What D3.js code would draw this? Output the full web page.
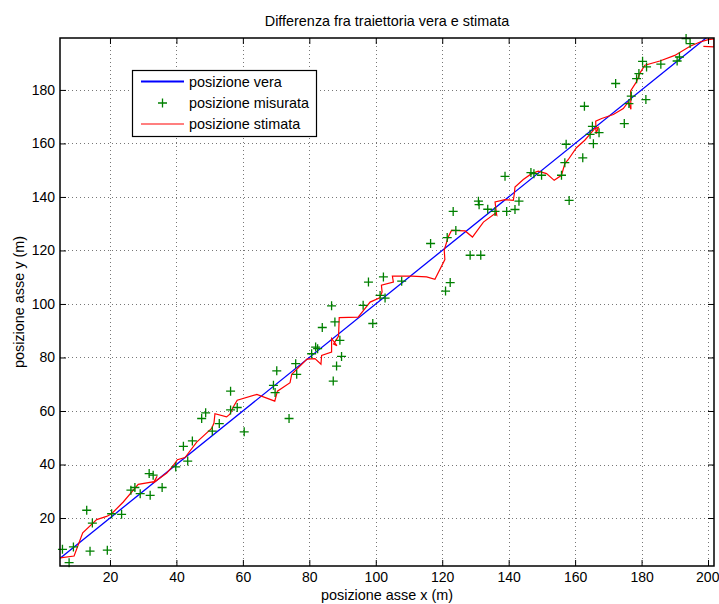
<!DOCTYPE html>
<html>
<head>
<meta charset="utf-8">
<script src="https://cdn.jsdelivr.net/npm/d3@7"></script>
<style>
  html, body { margin: 0; padding: 0; background: #fff; }
  svg text { font-family: "Liberation Sans", Arial, Helvetica, sans-serif; fill: #000; }
</style>
</head>
<body>
<svg id="chart" width="719" height="604"></svg>
<script>
// ---------- data ----------
const titleText = "Differenza fra traiettoria vera e stimata";
const xLabelText = "posizione asse x (m)";
const yLabelText = "posizione asse y (m)";
const legendLabels = ["posizione vera", "posizione misurata", "posizione stimata"];

const xTicks = [20, 40, 60, 80, 100, 120, 140, 160, 180, 200];
const yTicks = [20, 40, 60, 80, 100, 120, 140, 160, 180];
const xDomain = [4.96, 201.8];
const yDomain = [2.07, 199.4];

// true trajectory
const trueX = [5, 200];
const trueY = [5, 200];

// measured positions
const measX = [5.7, 7.7, 9.0, 13.0, 14.0, 14.7, 19.2, 20.5, 23.5, 26.3, 27.5, 29.1, 31.8, 33.0, 32.1, 35.7,
  39.8, 42.1, 43.4, 44.8, 47.6, 48.8, 50.8, 52.9, 56.3, 58.3, 56.3, 60.4, 73.9, 70.2, 69.2, 69.7,
  75.9, 76.2, 80.7, 81.9, 82.5, 83.9, 86.7, 87.2, 88.2, 89.7, 89.2, 87.7, 96.2, 97.8, 99.1, 101.3,
  102.8, 102.3, 107.8, 116.5, 121.0, 122.4, 121.5, 124.1, 123.3, 128.4, 131.6, 130.9, 131.1, 133.7,
  135.9, 139.4, 138.9, 141.9, 143.1, 146.7, 147.6, 149.9, 155.9, 156.9, 157.3, 158.2, 162.3, 162.8,
  164.5, 165.2, 165.5, 167.2, 172.2, 174.8, 176.2, 176.9, 178.5, 179.2, 180.3, 181.5, 181.3, 185.8,
  190.7, 191.4, 193.4, 194.6];
const measY = [8.3, 3.3, 9.2, 22.9, 7.6, 18.1, 8.0, 21.6, 21.4, 30.4, 31.4, 29.1, 36.6, 36.0, 28.5, 31.4,
  39.1, 46.8, 41.3, 48.8, 57.2, 59.3, 52.5, 55.3, 60.4, 61.3, 67.4, 52.2, 57.2, 75.0, 69.6, 66.9,
  77.7, 73.7, 81.4, 83.9, 83.3, 91.2, 99.3, 71.2, 76.8, 80.4, 86.4, 93.3, 99.5, 108.2, 92.7, 103.2,
  102.2, 110.1, 108.5, 122.6, 104.8, 108.0, 124.8, 127.5, 134.6, 118.2, 118.2, 138.4, 137.1, 135.4,
  134.6, 134.6, 147.7, 135.3, 138.4, 149.1, 148.7, 148.1, 148.1, 152.8, 159.7, 138.7, 154.6, 173.9,
  163.4, 166.4, 159.9, 164.0, 182.4, 167.4, 174.9, 177.7, 184.2, 186.1, 190.7, 188.6, 176.4, 189.6,
  190.8, 192.3, 199.2, 197.3];

// estimated positions
const estX = [5.0, 9.2, 11.8, 16.0, 19.0, 20.5, 24.0, 28.5, 33.3, 34.2, 33.0, 37.1, 39.1, 40.3, 42.6, 46.1,
  50.6, 51.3, 51.6, 55.1, 56.1, 57.1, 58.3, 64.2, 69.6, 70.4, 74.2, 74.7, 79.3, 81.7, 83.5, 83.7,
  86.7, 86.7, 88.3, 87.3, 88.8, 89.0, 94.7, 98.3, 101.2, 101.9, 101.7, 105.3, 105.0, 110.8, 115.3, 117.8,
  120.8, 120.6, 121.8, 122.8, 126.9, 129.1, 132.4, 135.9, 136.4, 135.9, 138.9, 141.4, 141.7, 141.9, 144.4, 146.9,
  148.9, 151.4, 153.7, 155.9, 156.9, 157.9, 160.4, 162.9, 165.9, 167.0, 166.3, 166.2, 168.0, 171.5, 174.5, 176.0,
  176.8, 176.7, 178.5, 179.5, 181.0, 185.5, 190.0, 194.6, 197.6, 200.1, 201.8, 201.8, 198.6];
const estY = [5.1, 5.8, 14.5, 19.4, 20.6, 21.6, 26.0, 32.6, 33.6, 35.6, 33.1, 36.8, 39.7, 41.8, 42.6, 48.4,
  53.5, 55.5, 59.0, 57.8, 58.8, 61.5, 64.0, 66.2, 63.7, 67.4, 70.6, 73.7, 79.4, 79.6, 77.5, 80.8,
  82.0, 87.1, 84.4, 85.0, 88.0, 94.9, 95.1, 100.7, 102.3, 104.5, 107.0, 108.2, 110.4, 110.4, 110.1, 109.2,
  116.6, 120.1, 125.0, 127.5, 127.3, 125.0, 130.6, 133.8, 133.2, 138.1, 139.0, 138.7, 141.2, 143.7, 146.5, 148.7,
  149.6, 148.7, 146.2, 148.1, 152.5, 153.9, 158.4, 161.2, 165.5, 166.0, 163.6, 168.3, 169.3, 170.8, 173.0, 175.5,
  172.8, 179.6, 183.1, 186.3, 189.2, 190.8, 192.9, 196.3, 197.9, 198.8, 199.1, 196.1, 196.3];

// ---------- layout ----------
const W = 719, H = 604;
const m = { left: 60, top: 38, right: 5, bottom: 38 };
const pw = W - m.left - m.right;   // 654
const ph = H - m.top - m.bottom;   // 528
const FS = 14.4;
const TFS = 14;

const svg = d3.select("#chart");
const g = svg.append("g").attr("transform", `translate(${m.left},${m.top})`);

const x = d3.scaleLinear().domain(xDomain).range([0, pw]);
const y = d3.scaleLinear().domain(yDomain).range([ph, 0]);

// background
g.append("rect").attr("width", pw).attr("height", ph).attr("fill", "#fff");

// grid
const grid = g.append("g").attr("class", "grid");
grid.selectAll("line.gx").data(xTicks).enter().append("line")
  .attr("x1", d => Math.round(x(d)) + 0.5).attr("x2", d => Math.round(x(d)) + 0.5)
  .attr("y1", 0).attr("y2", ph)
  .attr("stroke", "#777").attr("stroke-width", 1).attr("stroke-dasharray", "1,3");
grid.selectAll("line.gy").data(yTicks).enter().append("line")
  .attr("y1", d => Math.round(y(d)) + 0.5).attr("y2", d => Math.round(y(d)) + 0.5)
  .attr("x1", 0).attr("x2", pw)
  .attr("stroke", "#777").attr("stroke-width", 1).attr("stroke-dasharray", "1,3");

// clip
svg.append("defs").append("clipPath").attr("id", "clip")
  .append("rect").attr("width", pw).attr("height", ph);

const plot = g.append("g").attr("clip-path", "url(#clip)");

const lineGen = d3.line().x(d => x(d[0])).y(d => y(d[1]));

const trueData = d3.zip(trueX, trueY);
const estData = d3.zip(estX, estY);
const measData = d3.zip(measX, measY);

plot.append("path").datum(trueData).attr("d", lineGen)
  .attr("fill", "none").attr("stroke", "#0000ff").attr("stroke-width", 1.3);

// measured markers
const mk = 4.5;
const marks = g.append("g");
marks.selectAll("path").data(measData).enter().append("path")
  .attr("d", d => {
    const cx = x(d[0]), cy = y(d[1]);
    return `M${cx - mk},${cy}H${cx + mk}M${cx},${cy - mk}V${cy + mk}`;
  })
  .attr("stroke", "#008000").attr("stroke-width", 1.3).attr("fill", "none");

plot.append("path").datum(estData).attr("d", lineGen)
  .attr("fill", "none").attr("stroke", "#ff0000").attr("stroke-width", 1.2)
  .attr("stroke-linejoin", "miter");

// axes
const tk = 6;
const axB = d3.axisBottom(x).tickValues(xTicks).tickSizeInner(-tk).tickSizeOuter(0).tickPadding(6).tickFormat(d3.format("d"));
const axL = d3.axisLeft(y).tickValues(yTicks).tickSizeInner(-tk).tickSizeOuter(0).tickPadding(5).tickFormat(d3.format("d"));
const axT = d3.axisTop(x).tickValues(xTicks).tickSizeInner(-tk).tickSizeOuter(0).tickFormat("");
const axR = d3.axisRight(y).tickValues(yTicks).tickSizeInner(-tk).tickSizeOuter(0).tickFormat("");

function styleAxis(sel) {
  sel.select(".domain").remove();
  sel.selectAll(".tick line").attr("stroke", "#000").attr("stroke-width", 1);
  sel.selectAll(".tick text").attr("font-size", TFS).attr("fill", "#000")
    .style("font-family", '"Liberation Sans", Arial, sans-serif');
}
const bottomAxis = g.append("g").attr("transform", `translate(0,${ph})`).call(axB).call(styleAxis);
// keep the last label inside the window, as in the reference
bottomAxis.selectAll(".tick text").filter(d => d === 200).attr("text-anchor", "end").attr("dx", "0.78em");
g.append("g").call(axL).call(styleAxis);
g.append("g").call(axT).call(styleAxis);
g.append("g").attr("transform", `translate(${pw},0)`).call(axR).call(styleAxis);

// box
g.append("rect").attr("x", 0).attr("y", 0).attr("width", pw).attr("height", ph)
  .attr("fill", "none").attr("stroke", "#000").attr("stroke-width", 1.5);

// title & labels
svg.append("text").attr("x", m.left + pw / 2).attr("y", 26)
  .attr("text-anchor", "middle").attr("font-size", FS).text(titleText);
svg.append("text").attr("x", m.left + pw / 2).attr("y", 600)
  .attr("text-anchor", "middle").attr("font-size", FS).text(xLabelText);
svg.append("text").attr("transform", `translate(24,${m.top + ph / 2}) rotate(-90)`)
  .attr("text-anchor", "middle").attr("font-size", FS).text(yLabelText);

// legend
const lg = svg.append("g").attr("transform", "translate(132,70)");
lg.append("rect").attr("x", 0.5).attr("y", 0.5).attr("width", 184).attr("height", 66)
  .attr("fill", "#fff").attr("stroke", "#000").attr("stroke-width", 1.2);
const rowY = [11.5, 33, 54];
const legColors = ["#0000ff", "#008000", "#ff0000"];
const legWidths = [1.8, 1.3, 1.2];
legendLabels.forEach((lab, i) => {
  const yy = rowY[i];
  if (i === 1) {
    const cx = 30.5;
    lg.append("path").attr("d", `M${cx - mk},${yy}H${cx + mk}M${cx},${yy - mk}V${yy + mk}`)
      .attr("stroke", legColors[i]).attr("stroke-width", legWidths[i]);
  } else {
    lg.append("line").attr("x1", 9).attr("x2", 52).attr("y1", yy).attr("y2", yy)
      .attr("stroke", legColors[i]).attr("stroke-width", legWidths[i]);
  }
  lg.append("text").attr("x", 57).attr("y", yy + 5).attr("font-size", FS).text(lab);
});
</script>
</body>
</html>
